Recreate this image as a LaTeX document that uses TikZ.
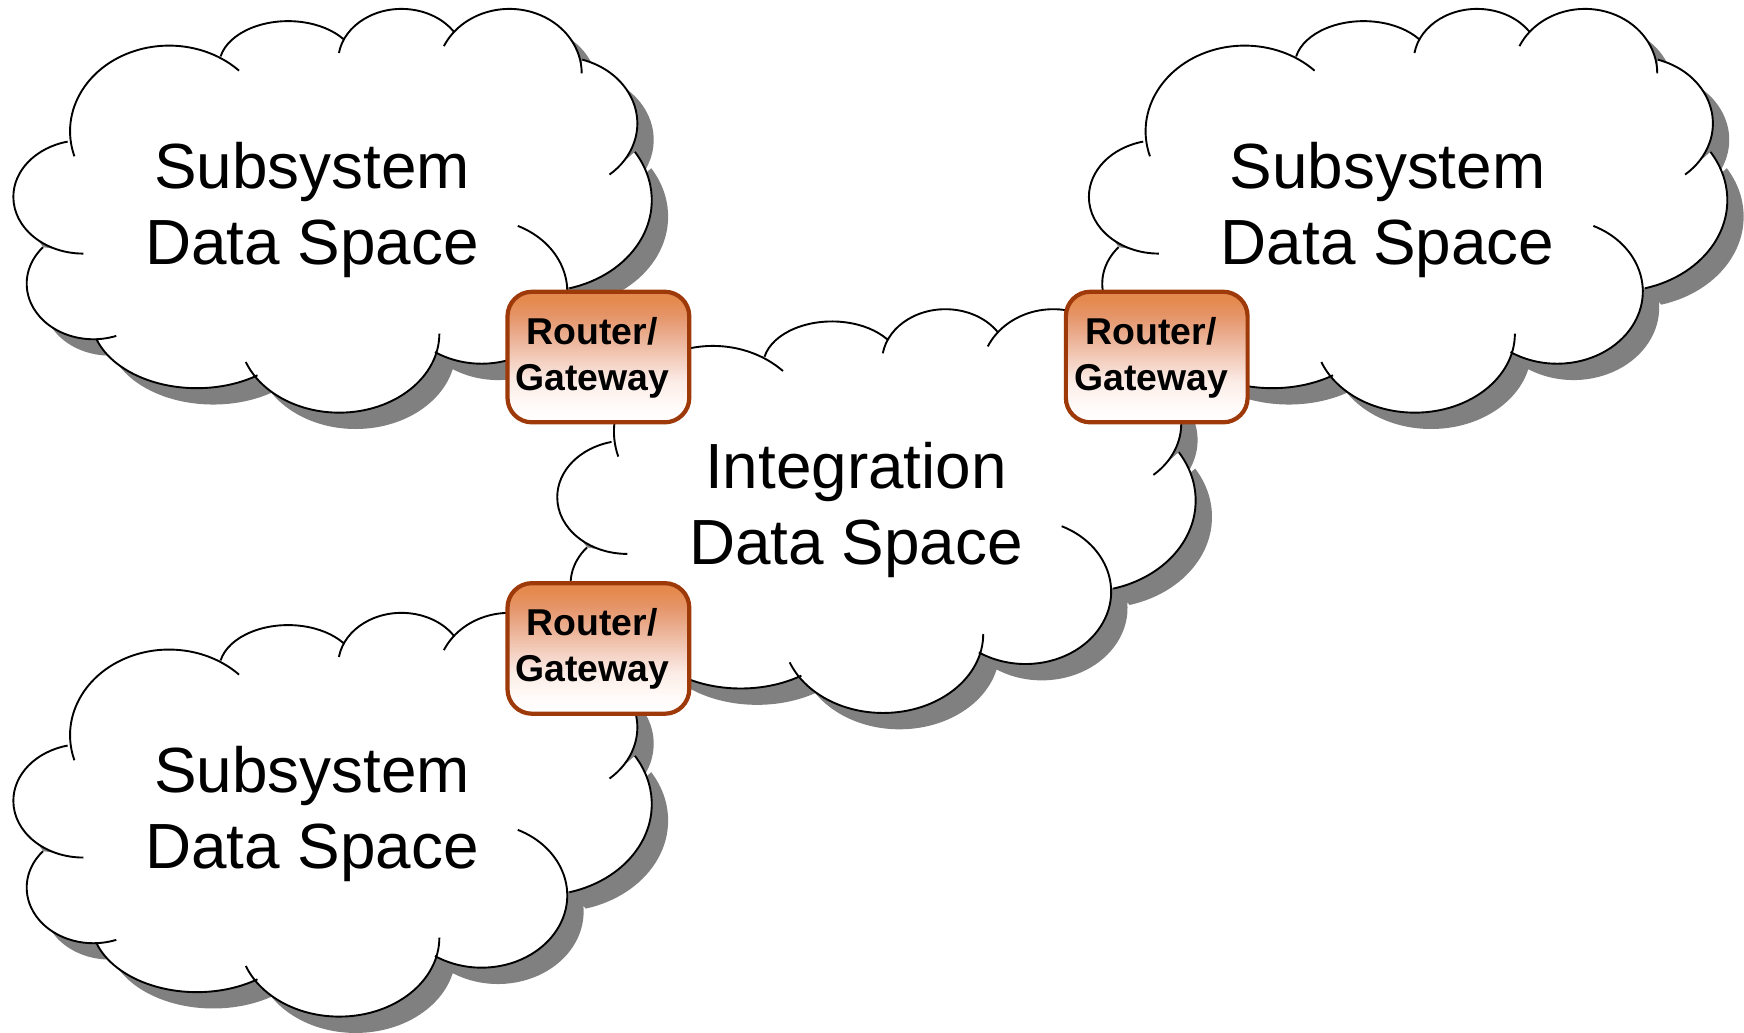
\documentclass[tikz,border=0pt]{standalone}
\usepackage{fontspec}
\setmainfont{Liberation Sans}
\definecolor{shadowgray}{HTML}{808080}
\definecolor{routerline}{HTML}{9E3A0A}
\definecolor{gradA}{HTML}{FFFAF8}
\definecolor{gradB}{HTML}{FBEBE5}
\definecolor{gradC}{HTML}{F5D5C8}
\definecolor{gradD}{HTML}{E9A887}
\definecolor{gradE}{HTML}{E59468}
\definecolor{gradF}{HTML}{E58A4E}
\pgfdeclareverticalshading{routergrad}{100bp}{
  color(0bp)=(white);
  color(25bp)=(white);
  color(32bp)=(gradA);
  color(41bp)=(gradB);
  color(47bp)=(gradC);
  color(60bp)=(gradD);
  color(66bp)=(gradE);
  color(72bp)=(gradF);
  color(100bp)=(gradF)}
\newcommand\lobe[6]{({#1+#3*cos(#5)},{-#2+#4*sin(#5)}) arc[start angle=#5,end angle=#6,x radius=#3,y radius=#4]}
% #1 is the link between lobes: -- for a filled outline, empty for separate strokes
\newcommand\cloudchain[1]{%
  \lobe{152}{118}{89}{77}{197}{45} #1
  \lobe{259}{59}{62}{40}{168}{37} #1
  \lobe{361}{55}{57}{47}{171}{35} #1
  \lobe{458}{66}{65}{58}{155}{0} #1
  \lobe{503}{111}{70}{60}{73}{-50} #1
  \lobe{486}{180}{100}{82}{32}{-75} #1
  \lobe{433}{262}{77}{65}{65}{-123} #1
  \lobe{305}{300}{90}{71}{0}{-159} #1
  \lobe{177}{285}{95}{64}{-55}{-162} #1
  \lobe{84}{255}{60}{50}{-70}{-221} #1
  \lobe{75}{177}{63}{51}{-90}{-257}}
\newcommand\cloudat[2]{%
  \begin{scope}[shift={({#1+14.7},{-#2-14.7})}]
    \fill[shadowgray] \cloudchain{--} -- cycle;
  \end{scope}
  \begin{scope}[shift={(#1,-#2)}]
    \fill[white] \cloudchain{--} -- cycle;
    \draw[cloudline] \cloudchain{};
  \end{scope}}
\tikzset{
  cloudline/.style={black,line width=0.85pt},
  cloudtext/.style={align=center,inner sep=0pt,font=\fontsize{28.7}{34.2}\selectfont},
  routerbox/.style={draw=routerline,line width=1.9pt,rounded corners=11pt,
    shading=routergrad,minimum width=81.7pt,minimum height=58.7pt,inner sep=0pt},
  routertext/.style={align=center,inner sep=0pt,font=\fontsize{16.8}{20.5}\selectfont\bfseries}
}
\begin{document}
\begin{tikzpicture}[x=0.5pt,y=0.5pt]
  \useasboundingbox (0,0) rectangle (1568,-928);
  \fill[white] (0,0) rectangle (1568,-928);
  \cloudat{0}{0}
  \cloudat{967}{0}
  \cloudat{0}{543}
  \cloudat{489}{270}
  \node[cloudtext] (s1) at (280.5,-188.5) {Subsystem\\Data Space};
  \node[cloudtext] (s2) at (1247.5,-188.5) {Subsystem\\Data Space};
  \node[cloudtext] (s3) at (280.5,-731.5) {Subsystem\\Data Space};
  \node[cloudtext] (integ) at (769.5,-458.5) {Integration\\Data Space};
  \node[routerbox] (r1) at (538,-321) {};
  \node[routerbox] (r2) at (1040,-321) {};
  \node[routerbox] (r3) at (538,-583) {};
  \node[routertext] (r1t) at (532.5,-321.5) {Router/\\Gateway};
  \node[routertext] (r2t) at (1035,-321.5) {Router/\\Gateway};
  \node[routertext] (r3t) at (532.5,-583.5) {Router/\\Gateway};
\end{tikzpicture}
\end{document}
